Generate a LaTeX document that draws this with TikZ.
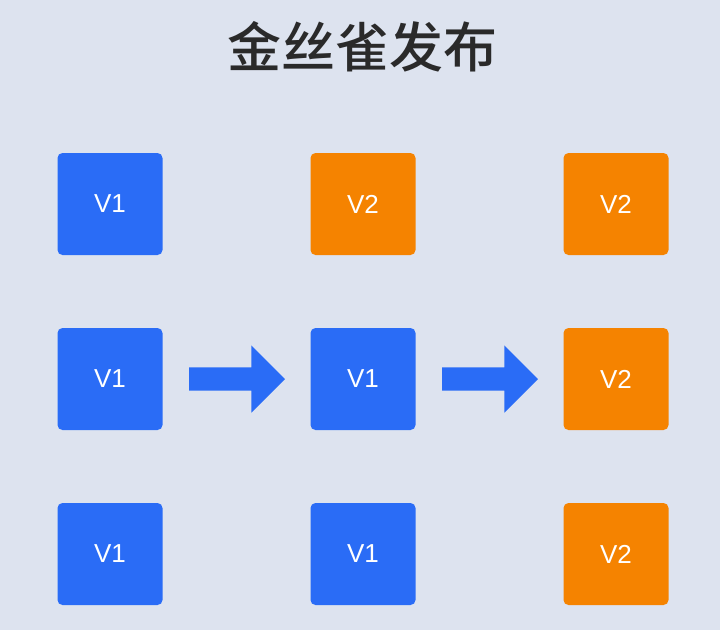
\documentclass[tikz,border=0pt]{standalone}
\usepackage{fontspec}
\setmainfont{Liberation Sans}
\newfontfamily\cjk{Noto Sans CJK SC}[BoldFont={Noto Sans CJK SC Medium}]
\usetikzlibrary{shapes.arrows}
\definecolor{bgcol}{HTML}{DDE3EF}
\definecolor{vblue}{HTML}{2A6CF6}
\definecolor{vorange}{HTML}{F58300}
\definecolor{titlecol}{HTML}{2A2A2A}

\begin{document}
\begin{tikzpicture}[x=1pt,y=-1pt,
    ver/.style={minimum width=105pt,minimum height=102pt,rounded corners=5pt,
        text=white,font=\fontsize{26}{26}\selectfont,inner sep=0pt},
    old/.style={ver,fill=vblue},
    new/.style={ver,fill=vorange},
    shift arrow/.style={single arrow,fill=vblue,minimum height=96pt,anchor=tail,
        inner sep=11.5pt,single arrow head extend=22pt,outer sep=0pt}]
            \fill[bgcol] (0,0) rectangle (720,630);
            \node[text=titlecol,font=\cjk\bfseries\fontsize{54}{54}\selectfont] (title) at (362,47) {金丝雀发布};
            % before
            \node[old] (a1) at (110,204) {V1};
            \node[old] (a2) at (110,379) {V1};
            \node[old] (a3) at (110,554) {V1};
            % during
            \node[new] (b1) at (363,204) {V2};
            \node[old] (b2) at (363,379) {V1};
            \node[old] (b3) at (363,554) {V1};
            % after
            \node[new] (c1) at (616,204) {V2};
            \node[new] (c2) at (616,379) {V2};
            \node[new] (c3) at (616,554) {V2};
            \node[shift arrow] (ab) at (189,379) {};
            \node[shift arrow] (bc) at (442,379) {};
        \end{tikzpicture}
\end{document}
